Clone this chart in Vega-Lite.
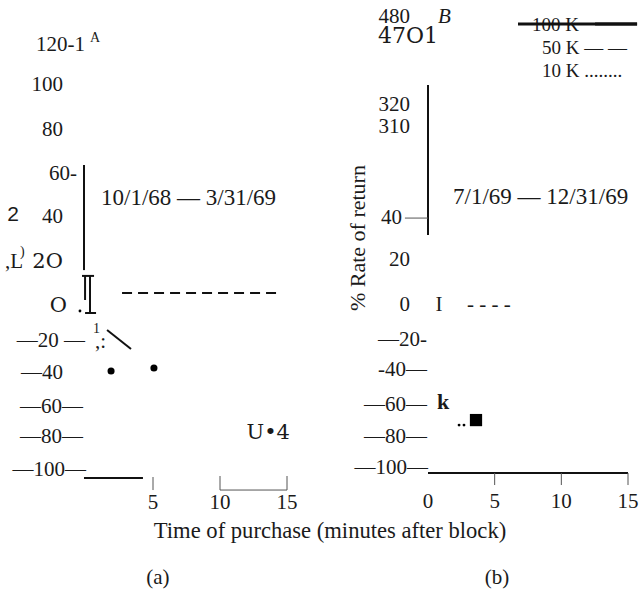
{
  "$schema": "https://vega.github.io/schema/vega-lite/v6.json",
  "padding": 0,
  "background": "white",
  "spacing": 0,
  "bounds": "flush",
  "config": {"view": {"stroke": null}, "text": {"font": "Liberation Serif", "fontSize": 21, "color": "#1a1a1a", "baseline": "middle"}},
  "hconcat": [
    {
      "width": 320,
      "height": 592,
      "encoding": {
        "x": {"field": "m", "type": "quantitative", "scale": {"domain": [0, 15], "range": [86, 287], "zero": false, "nice": false}, "axis": null},
        "y": {"field": "v", "type": "quantitative", "scale": {"domain": [-100, 0, 120], "range": [470, 303, 45], "zero": false, "nice": false}, "axis": null}
      },
      "layer": [
        {
          "data": {"values": [
            {"m": -0.07, "v": 120, "t": "120-1"},
            {"m": -1.72, "v": 101.4, "t": "100"},
            {"m": -1.72, "v": 80.5, "t": "80"},
            {"m": -0.67, "v": 60, "t": "60-"},
            {"m": -1.72, "v": 40, "t": "40"},
            {"m": -0.07, "v": -22.8, "t": "—20 —"},
            {"m": -1.72, "v": -41.9, "t": "—40"},
            {"m": -0.22, "v": -62.3, "t": "—60—"},
            {"m": -0.22, "v": -80.2, "t": "—80—"},
            {"m": 0, "v": -100, "t": "—100—"}
          ]},
          "mark": {"type": "text", "align": "right"},
          "encoding": {"text": {"field": "t"}}
        },
        {
          "data": {"values": [
            {"m": -6.04, "v": 19.07, "t": ",L"},
            {"m": 0.67, "v": -23.4, "t": ",:"}
          ]},
          "mark": {"type": "text", "align": "left"},
          "encoding": {"text": {"field": "t"}}
        },
        {
          "data": {"values": [
            {"m": 1.12, "v": 48.8, "t": "10/1/68 — 3/31/69"}
          ]},
          "mark": {"type": "text", "align": "left", "fontSize": 23},
          "encoding": {"text": {"field": "t"}}
        },
        {
          "data": {"values": [
            {"m": 5, "v": -119.8, "t": "5"},
            {"m": 10, "v": -119.8, "t": "10"},
            {"m": 15, "v": -119.8, "t": "15"},
            {"m": 5.37, "v": -164.7, "t": "(a)"}
          ]},
          "mark": {"type": "text", "align": "center"},
          "encoding": {"text": {"field": "t"}}
        },
        {
          "data": {"values": [
            {"m": 18.21, "v": -136.5, "t": "Time of purchase (minutes after block)"}
          ]},
          "mark": {"type": "text", "align": "center", "fontSize": 22.6},
          "encoding": {"text": {"field": "t"}}
        },
        {
          "data": {"values": [
            {"m": -1.72, "v": 19.07, "t": "2O"},
            {"m": -1.42, "v": -1.8, "t": "O"},
            {"m": 15.22, "v": -77.8, "t": "U•4"}
          ]},
          "mark": {"type": "text", "align": "right", "font": "DejaVu Serif", "fontSize": 21},
          "encoding": {"text": {"field": "t"}}
        },
        {
          "data": {"values": [
            {"m": 0.30, "v": 123.3, "t": "A"},
            {"m": 0.52, "v": -15.6, "t": "1"},
            {"m": -4.93, "v": 23.7, "t": ")"}
          ]},
          "mark": {"type": "text", "align": "left", "fontSize": 14},
          "encoding": {"text": {"field": "t"}}
        },
        {
          "data": {"values": [
            {"m": -5.45, "v": 40.9, "t": "2"}
          ]},
          "mark": {"type": "text", "align": "center", "font": "Liberation Sans", "fontSize": 21},
          "encoding": {"text": {"field": "t"}}
        },
        {
          "data": {"values": [
            {"m": -0.15, "v": 64.2, "m2": -0.15, "v2": 15.3},
            {"m": -0.07, "v": 12.6, "m2": -0.07, "v2": 1.4},
            {"m": 0.30, "v": 12.6, "m2": 0.30, "v2": -6.0},
            {"m": -0.30, "v": 12.6, "m2": 0.60, "v2": 12.6},
            {"m": -0.07, "v": -6.0, "m2": 0.75, "v2": -6.0},
            {"m": 1.57, "v": -16.2, "m2": 3.36, "v2": -27.5},
            {"m": -0.15, "v": -104.8, "m2": 4.25, "v2": -104.8}
          ]},
          "mark": {"type": "rule", "strokeWidth": 2, "color": "#111"},
          "encoding": {"x2": {"field": "m2"}, "y2": {"field": "v2"}}
        },
        {
          "data": {"values": [
            {"m": 5, "v": -104.2, "m2": 5, "v2": -112},
            {"m": 10, "v": -103.6, "m2": 10, "v2": -112},
            {"m": 15, "v": -103.6, "m2": 15, "v2": -112},
            {"m": 10, "v": -112, "m2": 15, "v2": -112}
          ]},
          "mark": {"type": "rule", "strokeWidth": 1, "color": "#555"},
          "encoding": {"x2": {"field": "m2"}, "y2": {"field": "v2"}}
        },
        {
          "data": {"values": [
            {"m": 2.69, "v": 4.7, "m2": 14.48, "v2": 4.7}
          ]},
          "mark": {"type": "rule", "strokeWidth": 2, "strokeDash": [10, 6], "color": "#111"},
          "encoding": {"x2": {"field": "m2"}, "y2": {"field": "v2"}}
        },
        {
          "data": {"values": [
            {"m": 1.87, "v": -40.7},
            {"m": 5.07, "v": -38.9}
          ]},
          "mark": {"type": "point", "shape": "circle", "filled": true, "size": 50, "color": "#000", "opacity": 1},
          "encoding": {}
        },
        {
          "data": {"values": [
            {"m": -0.45, "v": -4.8}
          ]},
          "mark": {"type": "point", "shape": "circle", "filled": true, "size": 8, "color": "#000", "opacity": 1},
          "encoding": {}
        }
      ]
    },
    {
      "width": 319,
      "height": 592,
      "encoding": {
        "x": {"field": "m", "type": "quantitative", "scale": {"domain": [0, 15], "range": [108, 308], "zero": false, "nice": false}, "axis": null},
        "y": {"field": "v", "type": "quantitative", "scale": {"domain": [-100, 0, 120], "range": [470, 303, 45], "zero": false, "nice": false}, "axis": null}
      },
      "layer": [
        {
          "data": {"values": [
            {"m": -1.35, "v": 133.0, "t": "480"},
            {"m": -1.35, "v": 92.1, "t": "320"},
            {"m": -1.35, "v": 81.9, "t": "310"},
            {"m": -1.95, "v": 39.5, "t": "40"},
            {"m": -1.35, "v": 20, "t": "20"},
            {"m": -1.35, "v": -1.2, "t": "0"},
            {"m": -0.08, "v": -22.2, "t": "—20-"},
            {"m": -0.08, "v": -40.1, "t": "-40—"},
            {"m": -0.08, "v": -61.1, "t": "—60—"},
            {"m": -0.08, "v": -80.2, "t": "—80—"},
            {"m": 0, "v": -98.8, "t": "—100—"}
          ]},
          "mark": {"type": "text", "align": "right"},
          "encoding": {"text": {"field": "t"}}
        },
        {
          "data": {"values": [
            {"m": 0.83, "v": -1.2, "t": "I"},
            {"m": 0, "v": -119.2, "t": "0"},
            {"m": 5, "v": -119.2, "t": "5"},
            {"m": 10, "v": -119.2, "t": "10"},
            {"m": 15, "v": -119.2, "t": "15"},
            {"m": 5.18, "v": -164.7, "t": "(b)"}
          ]},
          "mark": {"type": "text", "align": "center"},
          "encoding": {"text": {"field": "t"}}
        },
        {
          "data": {"values": [
            {"m": 2.93, "v": -1.2, "t": "- - - -"}
          ]},
          "mark": {"type": "text", "align": "left"},
          "encoding": {"text": {"field": "t"}}
        },
        {
          "data": {"values": [
            {"m": 1.88, "v": 49.3, "t": "7/1/69 — 12/31/69"}
          ]},
          "mark": {"type": "text", "align": "left", "fontSize": 23},
          "encoding": {"text": {"field": "t"}}
        },
        {
          "data": {"values": [
            {"m": 0.75, "v": 124.2, "t": "47O1"}
          ]},
          "mark": {"type": "text", "align": "right", "font": "DejaVu Serif", "fontSize": 22},
          "encoding": {"text": {"field": "t"}}
        },
        {
          "data": {"values": [
            {"m": 0.75, "v": 133.0, "t": "B"}
          ]},
          "mark": {"type": "text", "align": "left", "fontStyle": "italic"},
          "encoding": {"text": {"field": "t"}}
        },
        {
          "data": {"values": [
            {"m": 0.68, "v": -59.3, "t": "k"}
          ]},
          "mark": {"type": "text", "align": "left", "fontWeight": "bold", "fontSize": 22},
          "encoding": {"text": {"field": "t"}}
        },
        {
          "data": {"values": [
            {"m": 7.8, "v": 129.3, "t": "100 K"},
            {"m": 8.55, "v": 118.6, "t": "50 K — —"},
            {"m": 8.55, "v": 107.9, "t": "10 K ........"}
          ]},
          "mark": {"type": "text", "align": "left", "fontSize": 19},
          "encoding": {"text": {"field": "t"}}
        },
        {
          "data": {"values": [
            {"m": -5.25, "v": 30.2, "t": "% Rate of return"}
          ]},
          "mark": {"type": "text", "align": "center", "angle": 270, "fontSize": 22},
          "encoding": {"text": {"field": "t"}}
        },
        {
          "data": {"values": [
            {"m": 0, "v": 101.4, "m2": 0, "v2": 31.6},
            {"m": 0, "v": -101.8, "m2": 15, "v2": -101.8}
          ]},
          "mark": {"type": "rule", "strokeWidth": 2, "color": "#111"},
          "encoding": {"x2": {"field": "m2"}, "y2": {"field": "v2"}}
        },
        {
          "data": {"values": [
            {"m": 6.75, "v": 129.8, "m2": 15.68, "v2": 129.8},
            {"m": 12.53, "v": 129.8, "m2": 15.68, "v2": 129.8}
          ]},
          "mark": {"type": "rule", "strokeWidth": 3, "color": "#111"},
          "encoding": {"x2": {"field": "m2"}, "y2": {"field": "v2"}}
        },
        {
          "data": {"values": [
            {"m": -1.73, "v": 39.5, "m2": 0, "v2": 39.5},
            {"m": 5, "v": -101.8, "m2": 5, "v2": -109},
            {"m": 10, "v": -101.8, "m2": 10, "v2": -109},
            {"m": 15, "v": -101.8, "m2": 15, "v2": -109}
          ]},
          "mark": {"type": "rule", "strokeWidth": 1, "color": "#555"},
          "encoding": {"x2": {"field": "m2"}, "y2": {"field": "v2"}}
        },
        {
          "data": {"values": [
            {"m": 3.6, "v": -70.1}
          ]},
          "mark": {"type": "point", "shape": "square", "filled": true, "size": 150, "color": "#000", "opacity": 1},
          "encoding": {}
        },
        {
          "data": {"values": [
            {"m": 2.33, "v": -73.1},
            {"m": 2.7, "v": -73.1}
          ]},
          "mark": {"type": "point", "shape": "circle", "filled": true, "size": 8, "color": "#000", "opacity": 1},
          "encoding": {}
        }
      ]
    }
  ]
}
